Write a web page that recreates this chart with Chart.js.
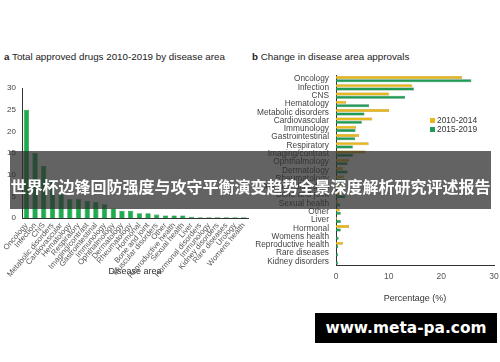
<!DOCTYPE html>
<html>
<head>
<meta charset="utf-8">
<script src="https://cdn.jsdelivr.net/npm/chart.js@4"></script>
<style>
  html, body { margin: 0; padding: 0; background: #fff; }
  body { width: 500px; height: 362px; position: relative; overflow: hidden; font-family: "Liberation Sans", Arial, sans-serif; }
  .title { position: absolute; font-size: 9.8px; color: #222; white-space: nowrap; }
  .title b { font-weight: bold; }
  #wrapA { position: absolute; left: 0; top: 80px; width: 250px; height: 200px; }
  #wrapB { position: absolute; left: 250px; top: 65px; width: 250px; height: 240px; }
  .legend { position: absolute; left: 430px; font-size: 8.4px; color: #333; white-space: nowrap; }
  .legend i { display: inline-block; width: 5px; height: 5px; margin-right: 2px; vertical-align: 0px; }
  #banner { position: absolute; left: 10px; top: 151px; width: 481px; height: 58px; background: rgba(45,45,45,0.74);
    color: #fff; font-family: "Noto Sans CJK SC", sans-serif; font-weight: bold; font-size: 16px; line-height: 58px;
    text-align: center; padding-top: 6px; box-sizing: border-box; white-space: nowrap; letter-spacing: 0; }
  #mark { position: absolute; left: 315px; top: 313px; width: 182px; height: 30px; background: #000; color: #fff;
    font-family: "DejaVu Sans", sans-serif; font-weight: bold; font-size: 15.4px; line-height: 30px; text-align: center; }
</style>
</head>
<body>
<div class="title" style="left:4px; top:51px;"><b>a</b> Total approved drugs 2010-2019 by disease area</div>
<div class="title" style="left:252px; top:51px;"><b>b</b> Change in disease area approvals</div>
<div id="wrapA"><canvas id="chartA"></canvas></div>
<div id="wrapB"><canvas id="chartB"></canvas></div>
<div class="legend" style="top:115px;"><i style="background:#e8b71e;"></i>2010-2014</div>
<div class="legend" style="top:124px;"><i style="background:#1e9b55;"></i>2015-2019</div>
<div id="banner">世界杯边锋回防强度与攻守平衡演变趋势全景深度解析研究评述报告</div>
<div id="mark">www.meta-pa.com</div>
<script>
// panel a: total approved drugs by area
const areasA = ['Oncology', 'Infection', 'CNS', 'Metabolic disorders', 'Cardiovascular', 'Hematology',
  'Respiratory', 'Imaging/contrast', 'Gastrointestinal', 'Immunology', 'Ophthalmology', 'Dermatology',
  'Rheumatology', 'Hormonal', 'Bone and joint', 'Muscular disorders', 'Other', 'Reproductive health',
  'Sexual health', 'Liver', 'Hormonal disorders', 'Immunology', 'Kidney disorders', 'Rare diseases',
  'Urology', 'Womens health'];
const totalsA = [25, 15, 12, 8.5, 5.5, 4.3, 4.3, 4, 3.7, 3.2, 2.2, 1.7, 1.7, 1.1, 1.1, 0.8, 0.6, 0.6,
  0.6, 0.3, 0.2, 0.2, 0.2, 0.2, 0.2, 0.2];
const ticksA = [0, 5, 10, 15, 20, 25, 30];

// panel b: share of approvals per period
const areasB = ['Oncology', 'Infection', 'CNS', 'Hematology', 'Metabolic disorders', 'Cardiovascular',
  'Immunology', 'Gastrointestinal', 'Respiratory', 'Imaging/contrast', 'Ophthalmology', 'Dermatology',
  'Rheumatology', 'Muscular disorders', 'Bone and joint', 'Sexual health', 'Other', 'Liver', 'Hormonal',
  'Womens health', 'Reproductive health', 'Rare diseases', 'Kidney disorders'];
const pct2010 = [23.9, 14.5, 10.1, 1.9, 10.1, 6.9, 3.8, 4.4, 6.2, 5.6, 2.5, 1.3, 1.5, 0.8, 0.8, 0.4,
  0.7, 0.2, 2.5, 0, 1.3, 0, 0];
const pct2015 = [25.7, 14.8, 13.1, 6.3, 5.4, 4.9, 3.7, 3.6, 3.2, 3.2, 2.2, 2.2, 1.8, 1.0, 1.8, 0.8,
  0.9, 0.9, 0.9, 0.5, 0.4, 0.4, 0.4];
const ticksB = [0, 10, 20, 30];

Chart.defaults.font.family = '"Liberation Sans", Arial, sans-serif';
Chart.defaults.color = '#555';
Chart.defaults.animation = false;

new Chart(document.getElementById('chartA'), {
  type: 'bar',
  data: {
    labels: areasA,
    datasets: [{
      data: totalsA,
      backgroundColor: '#1aad4c',
      borderColor: '#0f7a33',
      borderWidth: 0.6,
      categoryPercentage: 1,
      barPercentage: 0.6
    }]
  },
  options: {
    responsive: true,
    maintainAspectRatio: false,
    layout: { padding: { top: 8, right: 2, bottom: 0, left: 0 } },
    plugins: { legend: { display: false }, tooltip: { enabled: false } },
    scales: {
      x: {
        grid: { display: false, drawTicks: false },
        border: { display: true, color: '#333', width: 1 },
        ticks: { autoSkip: false, minRotation: 50, maxRotation: 50, padding: 3, font: { size: 7.8 }, color: '#555' },
        title: { display: true, text: 'Disease area', font: { size: 9 }, color: '#333', padding: { top: 0, bottom: 3 } },
        afterFit: (s) => { s.height = 62; s.paddingLeft = 0; s.paddingRight = 0; }
      },
      y: {
        min: 0,
        max: 30,
        afterBuildTicks: (s) => { s.ticks = ticksA.map(v => ({ value: v })); },
        grid: { display: false, drawTicks: false },
        border: { display: true, color: '#333', width: 1 },
        ticks: { padding: 6, font: { size: 8 }, color: '#444' },
        afterFit: (s) => { s.width = 22; s.paddingTop = 0; s.paddingBottom = 0; }
      }
    }
  }
});

new Chart(document.getElementById('chartB'), {
  type: 'bar',
  data: {
    labels: areasB,
    datasets: [
      { label: '2010-2014', data: pct2010, backgroundColor: '#e8b71e', borderColor: '#a8820c', borderWidth: 0.5,
        categoryPercentage: 0.8, barPercentage: 0.9 },
      { label: '2015-2019', data: pct2015, backgroundColor: '#1e9b55', borderColor: '#0f6a36', borderWidth: 0.5,
        categoryPercentage: 0.8, barPercentage: 0.9 }
    ]
  },
  options: {
    indexAxis: 'y',
    responsive: true,
    maintainAspectRatio: false,
    layout: { padding: { top: 10, right: 6, bottom: 0, left: 0 } },
    plugins: { legend: { display: false }, tooltip: { enabled: false } },
    scales: {
      x: {
        min: 0,
        max: 30,
        afterBuildTicks: (s) => { s.ticks = ticksB.map(v => ({ value: v })); },
        grid: { display: false, drawTicks: false },
        border: { display: true, color: '#333', width: 1 },
        ticks: { padding: 6, font: { size: 8.5 }, color: '#555' },
        title: { display: true, text: 'Percentage (%)', font: { size: 9 }, color: '#333', padding: { top: 0, bottom: 1 } },
        afterFit: (s) => { s.height = 39.5; s.paddingLeft = 0; s.paddingRight = 0; }
      },
      y: {
        grid: { display: false, drawTicks: false },
        border: { display: true, color: '#333', width: 1 },
        ticks: { autoSkip: false, padding: 7, font: { size: 8.3 }, color: '#444' },
        afterFit: (s) => { s.width = 86; s.paddingTop = 0; s.paddingBottom = 0; }
      }
    }
  }
});
</script>
</body>
</html>
